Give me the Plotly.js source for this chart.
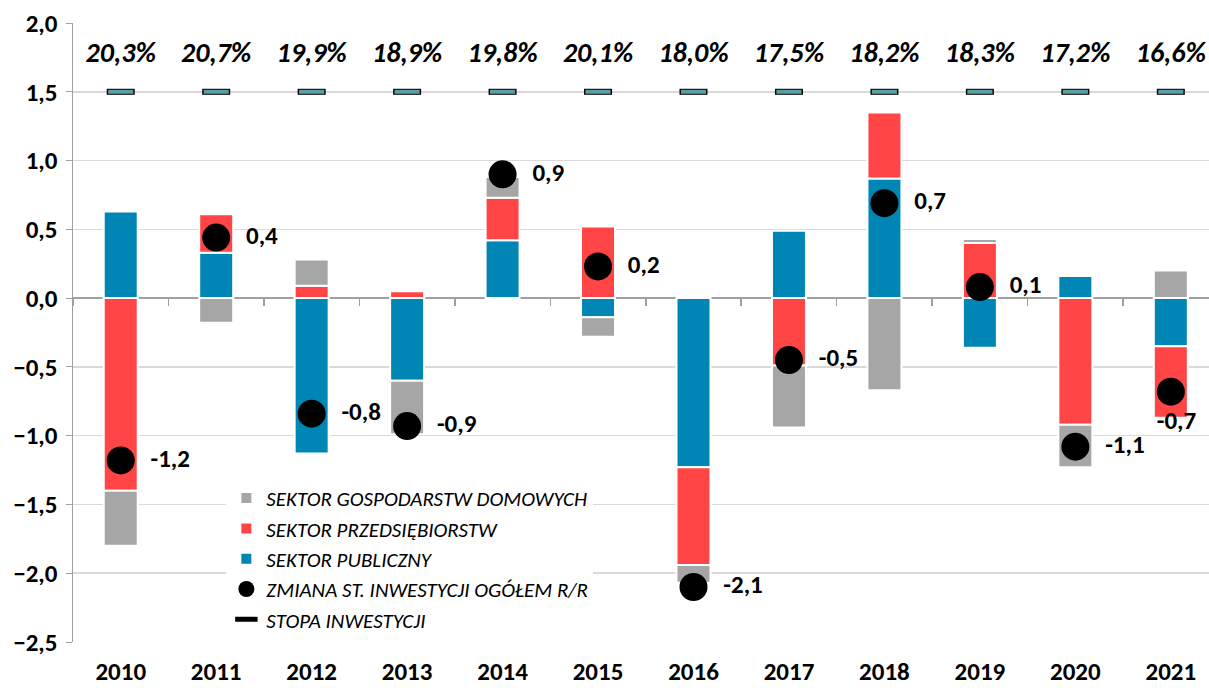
<!DOCTYPE html>
<html>
<head>
<meta charset="utf-8">
<script src="https://cdn.plot.ly/plotly-3.0.1.min.js"></script>
<style>
html,body{margin:0;padding:0;background:#fff;}
#chart{width:1209px;height:688px;}
</style>
</head>
<body>
<div id="chart"></div>
<script>
const years = ['2010','2011','2012','2013','2014','2015','2016','2017','2018','2019','2020','2021'];
const publiczny = [0.63, 0.33, -1.13, -0.60, 0.42, -0.14, -1.23, 0.49, 0.87, -0.36, 0.16, -0.35];
const przedsiebiorstw = [-1.40, 0.28, 0.09, 0.05, 0.31, 0.52, -0.71, -0.49, 0.48, 0.40, -0.92, -0.52];
const gospodarstwa = [-0.40, -0.18, 0.19, -0.39, 0.15, -0.14, -0.13, -0.45, -0.67, 0.03, -0.31, 0.20];
const zmiana = [-1.18, 0.44, -0.84, -0.93, 0.90, 0.23, -2.10, -0.45, 0.69, 0.08, -1.08, -0.68];
const zmianaLabels = ['-1,2','0,4','-0,8','-0,9','0,9','0,2','-2,1','-0,5','0,7','0,1','-1,1','-0,7'];
const stopa = [20.3, 20.7, 19.9, 18.9, 19.8, 20.1, 18.0, 17.5, 18.2, 18.3, 17.2, 16.6];
const stopaMarkerLevel = years.map(() => 1.5);
const stopaLabelLevel = years.map(() => 1.77);
const stopaLabels = stopa.map(v => v.toFixed(1).replace('.', ',') + '%');

const FONT = 'Carlito, Lato, "Open Sans", sans-serif';
const C_GRAY = '#a6a6a6', C_RED = '#ff4545', C_BLUE = '#0086b4', C_TEAL = '#5a9ea8';
const PAD = '\u00a0\u00a0';
// last label sits below the dot (it is at the right edge of the chart)
const zmianaTextPos = years.map((_, i) => i === years.length - 1 ? 'bottom center' : 'middle right');

const barLine = {color: '#ffffff', width: 2};
const traces = [
  {type:'bar', name:'SEKTOR PUBLICZNY', x:years, y:publiczny, marker:{color:C_BLUE, line:barLine}, legendrank:3, hoverinfo:'skip'},
  {type:'bar', name:'SEKTOR PRZEDSIĘBIORSTW', x:years, y:przedsiebiorstw, marker:{color:C_RED, line:barLine}, legendrank:2, hoverinfo:'skip'},
  {type:'bar', name:'SEKTOR GOSPODARSTW DOMOWYCH', x:years, y:gospodarstwa, marker:{color:C_GRAY, line:barLine}, legendrank:1, hoverinfo:'skip'},
  {type:'scatter', mode:'markers', name:'STOPA INWESTYCJI', x:years, y:stopaMarkerLevel,
   marker:{symbol:'line-ew', size:20, color:'#000', line:{color:'#000', width:6}}, legendrank:5, cliponaxis:false},
  {type:'scatter', mode:'markers', showlegend:false, x:years, y:stopaMarkerLevel,
   marker:{symbol:'line-ew', size:18, color:C_TEAL, line:{color:C_TEAL, width:4}}, cliponaxis:false},
  {type:'scatter', mode:'text', showlegend:false, x:years, y:stopaLabelLevel, text:stopaLabels,
   textposition:'middle center', textfont:{family:FONT, size:28, color:'#000', weight:'bold', style:'italic'}, cliponaxis:false},
  {type:'scatter', mode:'markers+text', name:'ZMIANA ST. INWESTYCJI OGÓŁEM R/R', x:years, y:zmiana,
   text:zmianaLabels.map(t => PAD + t),
   textposition:zmianaTextPos, textfont:{family:FONT, size:25, color:'#000', weight:'bold'},
   marker:{symbol:'circle', size:28, color:'#000'}, legendrank:4, cliponaxis:false},
  {type:'scatter', x:[], y:[], xaxis:'x2', showlegend:false, hoverinfo:'skip'}
];

const yMin = -2.5, yMax = 2.0;
const xRange = [-0.5, 11.4];
const layout = {
  width:1209, height:688,
  margin:{l:73, r:0, t:23, b:46},
  paper_bgcolor:'#fff', plot_bgcolor:'#fff',
  separators:', ',
  barmode:'relative',
  bargap:0.644,
  font:{family:FONT, color:'#000'},
  showlegend:true,
  legend:{x:0.135, y:0.265, xanchor:'left', yanchor:'top', bgcolor:'#ffffff', traceorder:'normal',
          font:{family:FONT, size:21, style:'italic', color:'#000'}, itemwidth:30},
  xaxis:{type:'category', range:xRange, showgrid:false, zeroline:false, showline:false, ticks:'',
         tickfont:{family:FONT, size:25, weight:'bold', color:'#000'}, ticklabelstandoff:12, fixedrange:true},
  xaxis2:{overlaying:'x', anchor:'free', position:(0 - yMin)/(yMax - yMin), range:xRange, tick0:0.5, dtick:1,
          ticks:'outside', ticklen:7, tickwidth:1.5, tickcolor:'#a0a0a0', showticklabels:false, showgrid:false,
          zeroline:false, showline:true, linecolor:'#a0a0a0', linewidth:2, layer:'below traces'},
  yaxis:{range:[yMin, yMax], dtick:0.5, tick0:0, tickformat:'.1f', showgrid:true, gridcolor:'#d9d9d9', gridwidth:1.5,
         zeroline:false, showline:true, linecolor:'#a0a0a0', linewidth:1.5, ticks:'outside', ticklen:6, tickcolor:'#a0a0a0',
         tickfont:{family:FONT, size:25, weight:'bold', color:'#000'}, ticklabelstandoff:3, fixedrange:true}
};

Plotly.newPlot('chart', traces, layout, {displayModeBar:false, staticPlot:true});
</script>
</body>
</html>
